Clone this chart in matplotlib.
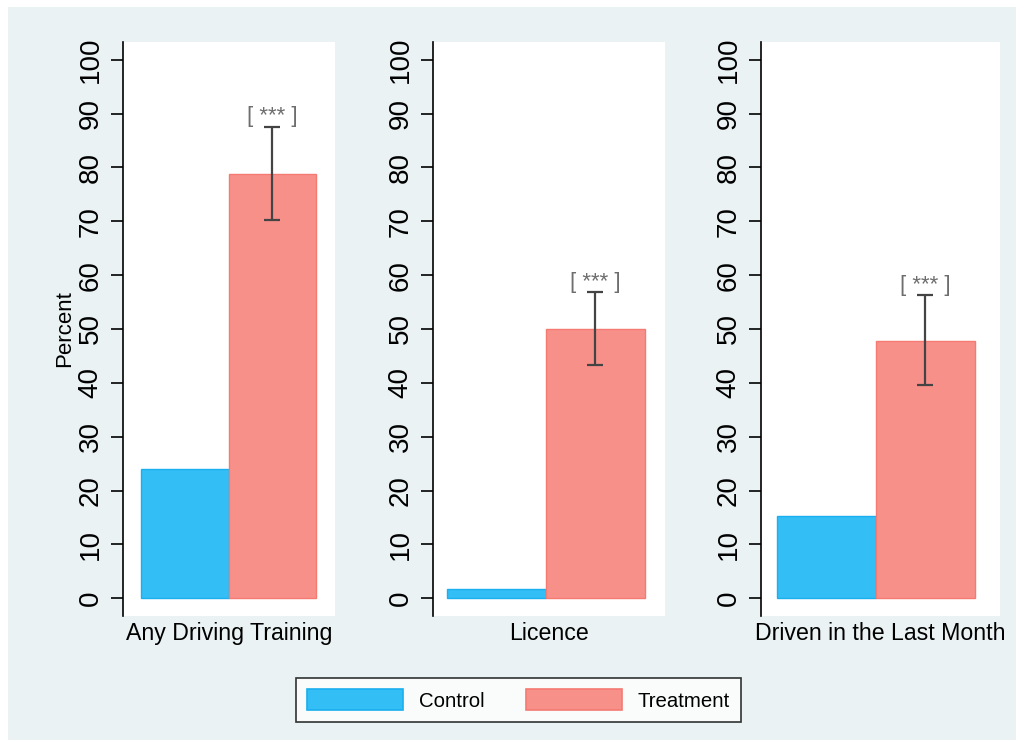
"""Driving outcomes by arm: three bar panels with CI on treatment."""

import matplotlib
matplotlib.use("Agg")
import matplotlib.pyplot as plt
from matplotlib.patches import Patch, Rectangle

# ---------------------------------------------------------------------------
# Data
# ---------------------------------------------------------------------------

categories = ["Any Driving Training", "Licence", "Driven in the Last Month"]
control = [24.0, 1.8, 15.3]
treatment = [78.8, 50.0, 47.8]
ci_low = [70.3, 43.3, 39.6]
ci_high = [87.6, 56.9, 56.3]
signif = ["[ *** ]", "[ *** ]", "[ *** ]"]
yticks = list(range(0, 101, 10))
arms = ["Control", "Treatment"]

# ---------------------------------------------------------------------------
# Style / layout
# ---------------------------------------------------------------------------

plt.rcParams["font.family"] = ["Liberation Sans", "DejaVu Sans"]

BG = "#EAF2F3"
CTRL_FILL, CTRL_EDGE = "#33BFF5", "#1AAFEE"
TRT_FILL, TRT_EDGE = "#F8908A", "#F47A72"
W, H = 1016, 740

# (left px, right px, xlim) for each panel
panels = [
    (123, 335, (-0.706, 1.717)),
    (433, 665, (-0.641, 1.702)),
    (761, 1000, (-0.662, 1.753)),
]
top_px, bot_px = 42, 616

fig = plt.figure(figsize=(W / 100, H / 100), dpi=100, facecolor="white")
fig.patches.append(Rectangle((8 / W, 0), 1 - 8 / W, 1 - 7 / H,
                             transform=fig.transFigure, facecolor=BG,
                             edgecolor="none", zorder=-10))

for i, (l, r, xlim) in enumerate(panels):
    ax = fig.add_axes([l / W, (H - bot_px) / H, (r - l) / W, (bot_px - top_px) / H])
    ax.set_facecolor("white")
    ax.bar(0, control[i], width=1.0, color=CTRL_FILL, edgecolor=CTRL_EDGE, linewidth=1.0)
    ax.bar(1, treatment[i], width=1.0, color=TRT_FILL, edgecolor=TRT_EDGE, linewidth=1.0)
    ax.errorbar(1, treatment[i],
                yerr=[[treatment[i] - ci_low[i]], [ci_high[i] - treatment[i]]],
                fmt="none", ecolor="#444444", elinewidth=1.6, capsize=6, capthick=1.6)
    ax.annotate(signif[i], (1, ci_high[i]), xytext=(0, 3), textcoords="offset points",
                ha="center", va="baseline", fontsize=16, color="#6E6E6E")

    ax.set_xlim(*xlim)
    ax.set_ylim(-3.3, 103.3)
    ax.set_yticks(yticks)
    ax.set_yticklabels([str(t) for t in yticks], rotation=90, va="center", fontsize=20)
    ax.tick_params(axis="y", length=9, width=1.2, pad=5, colors="black")
    ax.set_xticks([])
    ax.set_xlabel(categories[i], fontsize=16.7, labelpad=4)
    for side in ("top", "right", "bottom"):
        ax.spines[side].set_visible(False)
    ax.spines["left"].set_linewidth(1.2)
    if i == 0:
        ax.set_ylabel("Percent", fontsize=16, labelpad=2)

handles = [Patch(facecolor=CTRL_FILL, edgecolor=CTRL_EDGE, linewidth=1.2),
           Patch(facecolor=TRT_FILL, edgecolor=TRT_EDGE, linewidth=1.2)]
leg = fig.legend(handles, arms, loc="center", bbox_to_anchor=(518.5 / W, 1 - 700 / H),
                 ncol=2, fontsize=14.7, frameon=True, fancybox=False,
                 handlelength=4.7, handleheight=1.2, handletextpad=0.8,
                 columnspacing=2.0, borderpad=0.55)
leg.get_frame().set_edgecolor("black")
leg.get_frame().set_linewidth(1.2)

fig.savefig("out.png", dpi=100, facecolor=fig.get_facecolor())
